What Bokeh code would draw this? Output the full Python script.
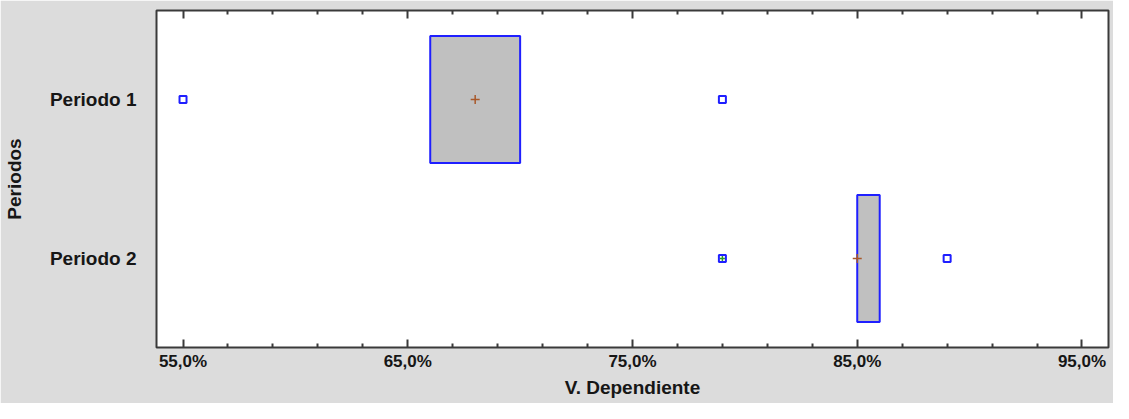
from bokeh.plotting import figure
from bokeh.models import Range1d, FixedTicker, LinearAxis, CustomJSTickFormatter, ColumnDataSource
from bokeh.embed import file_html
from bokeh.resources import INLINE

# ---- data ----
periods = ["Periodo 1", "Periodo 2"]
q1 = [66.0, 85.0]
q3 = [70.0, 86.0]
means = [68.0, 85.0]
outlier_period = ["Periodo 1", "Periodo 1", "Periodo 2"]
outlier_value = [55.0, 79.0, 89.0]
far_period = ["Periodo 2"]
far_value = [79.0]
x_major = [55, 65, 75, 85, 95]
x_minor = [57, 59, 61, 63, 67, 69, 71, 73, 77, 79, 81, 83, 87, 89, 91, 93]

ypos = {c: i + 1 for i, c in enumerate(periods)}

FONT = "Liberation Sans"
TXT = "#161616"
LINE = "#3a3a3a"
BG = "#dcdcdc"

p = figure(width=1113, height=403, output_backend="svg", toolbar_location=None,
           x_range=Range1d(53.82, 96.18), y_range=Range1d(2.56, 0.44),
           min_border_left=155, min_border_right=5, min_border_top=10, min_border_bottom=56,
           x_axis_location=None, y_axis_location=None)
p.background_fill_color = "white"
p.border_fill_color = BG
p.outline_line_color = LINE
p.outline_line_width = 2
p.xgrid.visible = False
p.ygrid.visible = False

ticker = FixedTicker(ticks=x_major, minor_ticks=x_minor)

xb = LinearAxis(ticker=ticker,
                formatter=CustomJSTickFormatter(code="return tick.toFixed(1).replace('.', ',') + '%';"),
                axis_label="V. Dependiente")
xt = LinearAxis(ticker=ticker, formatter=CustomJSTickFormatter(code="return '';"))
for ax in (xb, xt):
    ax.axis_line_color = None
    ax.major_tick_in = 8
    ax.major_tick_out = 0
    ax.minor_tick_in = 4
    ax.minor_tick_out = 0
    ax.major_tick_line_color = LINE
    ax.minor_tick_line_color = LINE
    ax.major_tick_line_width = 2
    ax.minor_tick_line_width = 2
xb.major_label_text_font = FONT
xb.major_label_text_font_style = "bold"
xb.major_label_text_font_size = "17px"
xb.major_label_text_color = TXT
xb.major_label_standoff = 4
xb.axis_label_text_font = FONT
xb.axis_label_text_font_style = "bold"
xb.axis_label_text_font_size = "19px"
xb.axis_label_text_color = TXT
xb.axis_label_standoff = 3
xt.major_label_text_font_size = "0px"
xt.major_label_standoff = 0
p.add_layout(xb, "below")
p.add_layout(xt, "above")

yl = LinearAxis(ticker=FixedTicker(ticks=[ypos[c] for c in periods], minor_ticks=[]),
                major_label_overrides={ypos[c]: c for c in periods},
                axis_label="Periodos")
yl.axis_line_color = None
yl.major_tick_in = 0
yl.major_tick_out = 0
yl.minor_tick_in = 0
yl.minor_tick_out = 0
yl.major_label_text_font = FONT
yl.major_label_text_font_style = "bold"
yl.major_label_text_font_size = "19px"
yl.major_label_text_color = TXT
yl.major_label_standoff = 20
yl.axis_label_text_font = FONT
yl.axis_label_text_font_style = "bold"
yl.axis_label_text_font_size = "19px"
yl.axis_label_text_color = TXT
yl.axis_label_standoff = 22
p.add_layout(yl, "left")

box_src = ColumnDataSource(dict(y=[ypos[c] for c in periods], q1=q1, q3=q3, mean=means))
p.hbar(y="y", left="q1", right="q3", height=0.8, source=box_src,
       fill_color="#c0c0c0", line_color="#1f1fff", line_width=2)
p.scatter(x="mean", y="y", source=box_src, marker="cross", size=9,
          line_color="#a8582a", line_width=1.5)

out_src = ColumnDataSource(dict(x=outlier_value, y=[ypos[c] for c in outlier_period]))
p.scatter(x="x", y="y", source=out_src, marker="square", size=7,
          fill_color="white", line_color="#1f1fff", line_width=2)

far_src = ColumnDataSource(dict(x=far_value, y=[ypos[c] for c in far_period]))
p.scatter(x="x", y="y", source=far_src, marker="square", size=7,
          fill_color="white", line_color="#1f1fff", line_width=2)
p.scatter(x="x", y="y", source=far_src, marker="cross", size=5,
          line_color="#2a9a2a", line_width=1.5)

open("out.html", "w").write(file_html(p, INLINE))
